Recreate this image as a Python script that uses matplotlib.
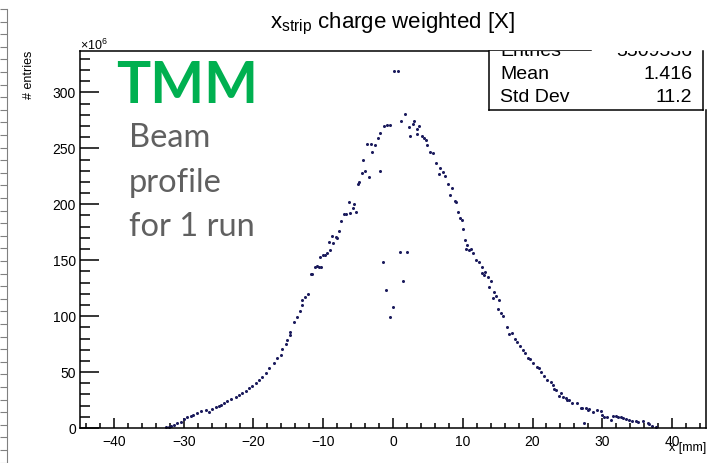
import numpy as np
import matplotlib
matplotlib.use("Agg")
import matplotlib.pyplot as plt

plt.rcParams["font.family"] = ["Liberation Sans", "DejaVu Sans"]
plt.rcParams["mathtext.fontset"] = "custom"
plt.rcParams["mathtext.rm"] = "Liberation Sans"

# bin contents, x in mm, counts in units of 1e6
X_TAIL_L = [-32.6, -32.1, -31.8, -31.4, -31.0, -30.4, -30.0, -29.6, -29.0, -28.6,
            -28.1, -27.5, -26.8, -26.4, -26.0, -25.4, -25.0, -24.6, -24.2, -23.8,
            -23.2, -22.5, -22.1, -21.7, -21.1, -20.7, -20.2, -19.7, -19.2, -18.8,
            -18.2, -17.8, -17.1, -16.6, -16.1, -15.9, -15.4, -15.2]
N_TAIL_L = [1.2, 0.9, 2.0, 2.7, 4.5, 5.4, 8.0, 9.8, 10.7, 11.6,
            13.4, 15.2, 16.1, 14.3, 17.0, 18.8, 19.6, 21.0, 22.3, 24.1,
            25.9, 27.7, 29.5, 31.3, 33.0, 35.7, 37.5, 40.2, 42.9, 45.5,
            49.1, 53.6, 58.0, 62.5, 65.2, 71.0, 75.0, 78.6]

X_RISE = [-14.8, -14.7, -14.2, -13.7, -13.4, -13.1, -13.0, -12.6, -12.2, -11.8,
          -11.6, -11.2, -10.9, -10.6, -10.5, -10.3, -10.0, -9.7, -9.4, -9.2,
          -9.1, -8.8, -8.6, -8.2, -8.0, -7.7, -7.5, -7.0, -6.7, -6.3,
          -6.1, -5.7, -5.6, -5.3, -5.0, -4.9, -4.5, -4.3, -4.0, -3.7,
          -3.5, -3.2, -3.0, -2.6, -2.2, -1.9, -1.8, -1.3, -0.8, -0.4]
N_RISE = [83, 86, 95, 99, 105, 110, 114, 117, 120, 137.5,
          138, 144, 145, 143.5, 153, 144, 154.5, 155, 156.5, 166,
          159, 172, 165.5, 171, 170, 176, 185, 191.7, 191, 202,
          192, 197, 200.6, 193, 218.5, 220, 228, 240, 229.5, 254,
          224.4, 254, 247, 252.7, 259, 229.5, 263.5, 270, 271, 271]

X_CORE = [-1.5, -1.0, -0.5, 0.0, 0.2, 0.7, 1.0, 1.5, 2.0]
N_CORE = [148, 123, 99, 108, 319, 319, 157, 131.5, 157]

X_FALL = [1.2, 1.7, 2.3, 2.5, 2.8, 3.0, 3.4, 3.5, 3.7, 4.1,
          4.4, 4.7, 4.9, 5.3, 5.7, 6.1, 6.6, 6.7, 7.1, 7.4,
          7.9, 8.2, 8.5, 8.9, 9.0, 9.3, 9.6, 9.9, 10.0, 10.3,
          10.5, 10.6, 10.9, 11.2, 11.4, 11.9, 12.3, 12.7, 12.8, 13.1,
          13.2, 13.6, 13.8, 14.1, 14.3, 14.5, 14.8, 15.1, 15.2, 15.5,
          15.8, 16.4, 16.7, 17.1, 17.5, 17.8, 18.2, 18.6, 18.9, 19.3, 19.6]
N_FALL = [274, 280.5, 269, 261, 271.5, 274.5, 262.5, 267, 269.6, 261,
          259.5, 257, 252.7, 246.7, 246, 237, 227, 232, 228.5, 225,
          218, 208.6, 214.5, 203, 202, 193, 188, 186, 178, 168,
          160, 164, 159.5, 160, 156, 150.6, 148.5, 138.7, 143.5, 136.6,
          139.6, 135, 126, 131.5, 115.8, 121.7, 117.9, 106, 114.3, 103,
          100, 90.5, 84, 84.5, 80, 77, 73.5, 69.6, 66.7, 63, 61.3]

X_TAIL_R = [20.0, 20.6, 20.9, 21.2, 21.7, 22.1, 22.6, 22.9, 23.1, 23.3,
            23.8, 24.1, 24.4, 24.8, 25.0, 25.3, 25.7, 26.4, 26.9, 27.1,
            27.4, 27.6, 27.9, 28.1, 28.6, 29.3, 29.8, 30.0, 30.3, 30.7,
            31.2, 31.5, 31.9, 32.3, 32.7, 32.9, 33.4, 33.9, 34.3, 34.8,
            35.1, 35.8, 36.5, 36.7, 37.2, 37.7]
N_TAIL_R = [57.7, 54.7, 53.3, 50.3, 46.4, 42.9, 41.0, 38.4, 34.5, 33.9,
            28.8, 31.5, 28.0, 26.5, 25.0, 25.0, 22.0, 22.0, 17.6, 17.6,
            4.7, 17.6, 16.0, 16.7, 14.6, 16.0, 15.5, 11.6, 10.1, 10.1,
            7.1, 10.7, 10.7, 9.5, 9.5, 8.6, 7.7, 7.1, 6.5, 6.5,
            5.6, 6.0, 4.2, 3.6, 1.8, 0.6]

STATS_NAMES = ["Entries", "Mean", "Std Dev"]
STATS_VALUES = ["5509536", "1.416", "11.2"]

W, H = 707, 463
fig = plt.figure(figsize=(W / 100, H / 100), dpi=100)


def fx(px):
    return px / W


def fy(py):
    return 1 - py / H


# left-edge ruler remnant
rax = fig.add_axes([0, 0, fx(6.5), 1 - 9 / H])
for s in ["left", "top", "bottom"]:
    rax.spines[s].set_visible(False)
rax.spines["right"].set_color("#808080")
rax.spines["right"].set_linewidth(0.8)
rax.set_ylim(0, H - 9)
rax.set_xticks([])
rax.yaxis.tick_right()
rax.set_yticks(np.arange(H - 9, 0, -12.6))
rax.tick_params(axis="y", direction="in", length=5, width=0.8, color="#808080", labelright=False)

# main frame
ax = fig.add_axes([fx(80), 1 - 428 / H, fx(706 - 80), (428 - 51) / H])
for xs, ns in [(X_TAIL_L, N_TAIL_L), (X_RISE, N_RISE), (X_CORE, N_CORE),
               (X_FALL, N_FALL), (X_TAIL_R, N_TAIL_R)]:
    ax.plot(xs, ns, linestyle="none", marker="o", ms=2.2, mew=0, color="#1a1a5c")

ax.set_xlim(-44.87, 44.87)
ax.set_ylim(0, 337)
ax.set_xticks(np.arange(-40, 41, 10))
ax.set_xticks(np.arange(-44, 45, 2), minor=True)
ax.set_yticks(np.arange(0, 301, 50))
ax.set_yticks(np.arange(0, 331, 10), minor=True)
ax.tick_params(which="both", direction="in", width=1.1, labelsize=10, top=False, right=False)
ax.tick_params(axis="x", which="major", length=7.5, pad=5)
ax.tick_params(axis="x", which="minor", length=3.7)
ax.tick_params(axis="y", which="major", length=13.5, pad=3)
ax.tick_params(axis="y", which="minor", length=7)
for s in ax.spines.values():
    s.set_linewidth(1.1)
ax.spines["top"].set_bounds(-44.87, 28.4)
ax.spines["right"].set_bounds(0, 284)

fig.text(fx(80), fy(50), r"$\times$10$^{6}$", fontsize=9, ha="left", va="baseline")
fig.text(fx(29), fy(51), "# entries", fontsize=9, rotation=90, ha="center", va="top")
fig.text(fx(706), fy(451.5), "x [mm]", fontsize=9, ha="right", va="baseline")
fig.text(fx(392), fy(28), r"x$_{\mathregular{strip}}$ charge weighted [X]", fontsize=16,
         ha="center", va="baseline")

# stats box, its top cut away
sax = fig.add_axes([fx(489), fy(110), fx(703 - 489), (110 - 51) / H])
sax.set_xlim(0, 1)
sax.set_ylim(0, 1)
sax.set_xticks([])
sax.set_yticks([])
sax.spines["top"].set_visible(False)
for s in ["left", "right", "bottom"]:
    sax.spines[s].set_linewidth(1.1)
for i, (name, val) in enumerate(zip(STATS_NAMES, STATS_VALUES)):
    yb = (110 - (56 + 23 * i)) / 59
    sax.text(0.052, yb, name, fontsize=14, ha="left", va="baseline", clip_on=True)
    sax.text(0.949, yb, val, fontsize=14, ha="right", va="baseline", clip_on=True)

# slide annotations
fig.text(fx(116), fy(103), "TMM", fontsize=41, fontweight="bold", family="Lato",
         color="#00b050", ha="left", va="baseline")
for txt, base in zip(["Beam", "profile", "for 1 run"], [147, 192, 236]):
    fig.text(fx(129), fy(base), txt, fontsize=23.5, family="Lato", color="#606060",
             ha="left", va="baseline")

fig.savefig("out.png", dpi=100)
